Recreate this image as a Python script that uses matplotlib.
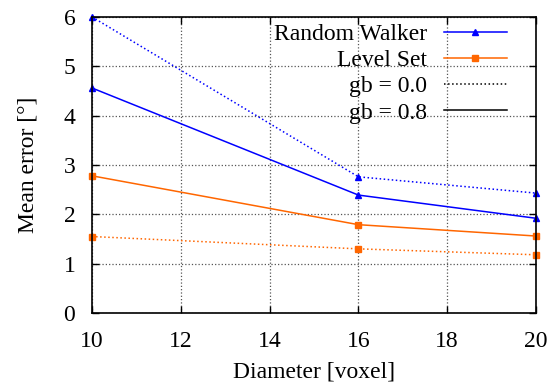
import matplotlib
matplotlib.use("Agg")
import matplotlib.pyplot as plt

# mean orientation error against vessel diameter
diameter = [10, 16, 20]
rw_gb00 = [6.0, 2.76, 2.43]
rw_gb08 = [4.56, 2.39, 1.92]
ls_gb00 = [1.55, 1.30, 1.18]
ls_gb08 = [2.78, 1.79, 1.56]

BLUE = "#0000ff"
ORANGE = "#ff6600"
FS = 17

plt.rcParams["font.family"] = ["Liberation Serif", "DejaVu Serif"]
plt.rcParams["font.size"] = FS

fig = plt.figure(figsize=(5.52, 3.85), dpi=100)
ax = fig.add_axes([0.1667, 0.187, 0.8043, 0.769])

ax.plot(diameter, rw_gb00, color=BLUE, ls=":", lw=1.1, marker="^", ms=5)
ax.plot(diameter, rw_gb08, color=BLUE, ls="-", lw=1.1, marker="^", ms=5)
ax.plot(diameter, ls_gb00, color=ORANGE, ls=":", lw=1.1, marker="s", ms=5)
ax.plot(diameter, ls_gb08, color=ORANGE, ls="-", lw=1.1, marker="s", ms=5)

for ln in ax.lines:
    ln.set_clip_on(False)

ax.set_xlim(10, 20)
ax.set_ylim(0, 6)
ax.set_xticks([10, 12, 14, 16, 18, 20])
ax.set_yticks(range(7))
ax.grid(True, color="#555555", ls=":", lw=0.9)
ax.tick_params(direction="in", top=True, right=True, length=5, width=1,
               labelsize=FS)
ax.tick_params(axis="x", pad=13)
ax.tick_params(axis="y", pad=12)
for s in ax.spines.values():
    s.set_linewidth(1.2)

ax.set_xlabel("Diameter [voxel]", fontsize=FS, labelpad=7)
ax.set_ylabel("Mean error [°]", fontsize=FS, labelpad=18)

# legend entries: method colours and gb line styles
handles = [
    plt.Line2D([], [], color=BLUE, lw=1.1, marker="^", ms=5),
    plt.Line2D([], [], color=ORANGE, lw=1.1, marker="s", ms=5),
    plt.Line2D([], [], color="black", lw=1.1, ls=":"),
    plt.Line2D([], [], color="black", lw=1.1, ls="-"),
]
labels = ["Random Walker", "Level Set", "gb = 0.0", "gb = 0.8"]
# with markerfirst=False the rows are right-aligned, so texts line up on the right
ax.legend(handles, labels, loc="upper right", frameon=False,
          markerfirst=False, numpoints=1, handlelength=2.67,
          handletextpad=0.68, labelspacing=0.2, fontsize=FS,
          borderaxespad=0.0, bbox_to_anchor=(0.955, 1.01))

fig.savefig("out.png", dpi=100)
